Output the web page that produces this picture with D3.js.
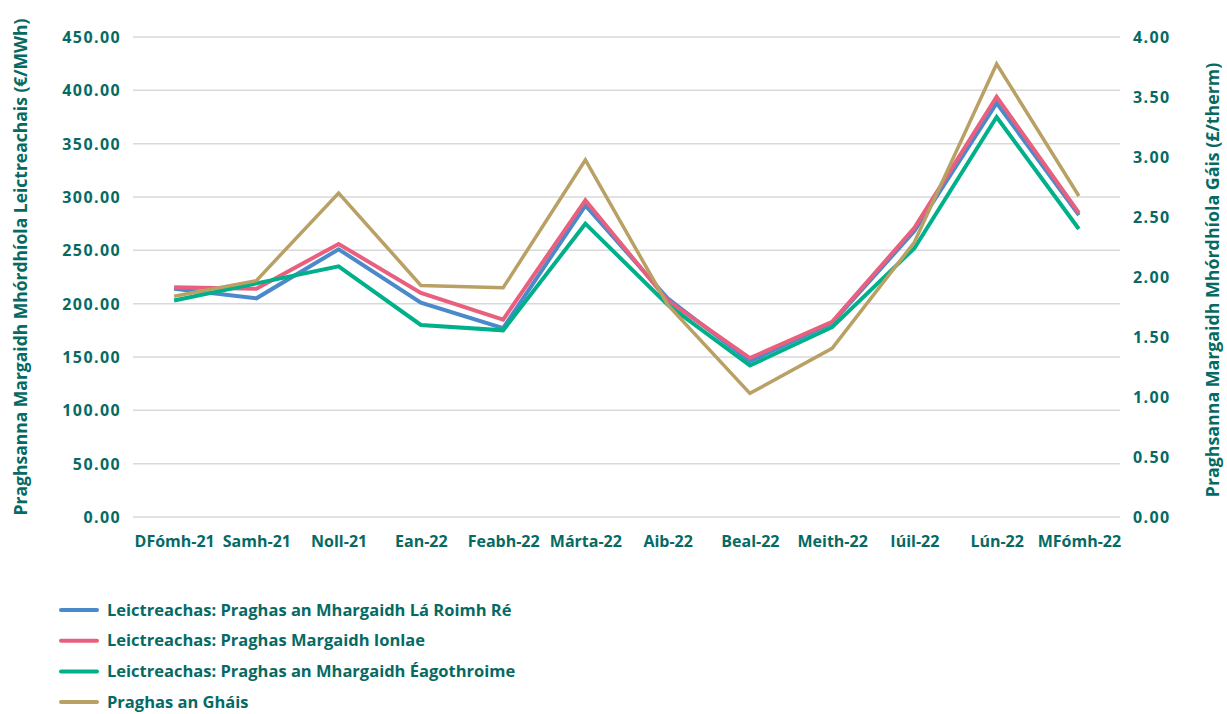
<!DOCTYPE html>
<html><head><meta charset="utf-8">
<script src="https://cdn.jsdelivr.net/npm/d3@7"></script>
<style>body{margin:0;background:#fff}svg{display:block}text{font-family:"Open Sans","Noto Sans",sans-serif;font-weight:700;fill:#066a64}</style>
</head><body><svg id="c" width="1227" height="714"></svg>
<script>
const categories=["DFómh-21","Samh-21","Noll-21","Ean-22","Feabh-22","Márta-22","Aib-22","Beal-22","Meith-22","Iúil-22","Lún-22","MFómh-22"];
const dayAhead=[214,205,251,201,177,292,205,146,182,268,388,283];
const intraday=[215.5,214,256,210,185,297,203,149,183,271,394,285];
const balancing=[203,219,235,180,175,275,199,142,178,252,375,270];
const gas=[1.84,1.97,2.70,1.93,1.91,2.975,1.77,1.03,1.405,2.29,3.775,2.675];
const leftTicks=[0,50,100,150,200,250,300,350,400,450];
const rightTicks=[0,0.5,1,1.5,2,2.5,3,3.5,4];
const seriesNames=["Leictreachas: Praghas an Mhargaidh Lá Roimh Ré","Leictreachas: Praghas Margaidh Ionlae","Leictreachas: Praghas an Mhargaidh Éagothroime","Praghas an Gháis"];
const colors=["#4a8acb","#e8607e","#00b08a","#b9a165"];

const svg=d3.select("#c");
const L=133,R=1120,T=37,B=517;
const x=d3.scalePoint().domain(categories).range([L,R]).padding(0.5);
const yL=d3.scaleLinear().domain([0,450]).range([B,T]);
const yR=d3.scaleLinear().domain([0,4]).range([B,T]);

svg.append("g").selectAll("line").data(leftTicks).join("line")
 .attr("x1",L).attr("x2",R).attr("y1",d=>yL(d)).attr("y2",d=>yL(d))
 .attr("stroke","#d9d9d9").attr("stroke-width",1.5);

const la=svg.append("g").attr("transform",`translate(${L-12},0)`).call(d3.axisLeft(yL).tickValues(leftTicks).tickFormat(d3.format(".2f")).tickSize(0).tickPadding(0));
la.select(".domain").remove();
la.selectAll("text").attr("font-size",16).attr("letter-spacing",1.4).attr("dy","0.35em").attr("font-family",null);
const ra=svg.append("g").attr("transform",`translate(${R+13},0)`).call(d3.axisRight(yR).tickValues(rightTicks).tickFormat(d3.format(".2f")).tickSize(0).tickPadding(0));
ra.select(".domain").remove();
ra.selectAll("text").attr("font-size",16).attr("letter-spacing",1.4).attr("dy","0.35em").attr("font-family",null);
const xa=svg.append("g").attr("transform",`translate(0,${B+18})`).call(d3.axisBottom(x).tickSize(0).tickPadding(0));
xa.select(".domain").remove();
xa.selectAll("text").attr("font-size",16).attr("dy","0.35em").attr("y",6).attr("font-family",null);

svg.append("text").attr("transform",`translate(27,${(T+B)/2-10}) rotate(-90)`).attr("text-anchor","middle").attr("font-size",17.5).text("Praghsanna Margaidh Mhórdhíola Leictreachais (€/MWh)");
svg.append("text").attr("transform",`translate(1219,${(T+B)/2+3}) rotate(-90)`).attr("text-anchor","middle").attr("font-size",17.8).text("Praghsanna Margaidh Mhórdhíola Gáis (£/therm)");

const lineL=d3.line().x((d,i)=>x(categories[i])).y(d=>yL(d));
const lineR=d3.line().x((d,i)=>x(categories[i])).y(d=>yR(d));
const elec=[dayAhead,intraday,balancing];
elec.forEach((s,k)=>{
 svg.append("path").datum(s).attr("d",lineL).attr("fill","none").attr("stroke",colors[k]).attr("stroke-width",4);
});
svg.append("path").datum(gas).attr("d",lineR).attr("fill","none").attr("stroke",colors[3]).attr("stroke-width",3.5);

const lg=svg.append("g").selectAll("g").data(seriesNames).join("g").attr("transform",(d,i)=>`translate(0,${610+i*30.7})`);
lg.append("line").attr("x1",61).attr("x2",97).attr("stroke",(d,i)=>colors[i]).attr("stroke-width",4).attr("stroke-linecap","round");
lg.append("text").attr("x",107).attr("dy","0.35em").attr("font-size",16.5).text(d=>d);
</script></body></html>
